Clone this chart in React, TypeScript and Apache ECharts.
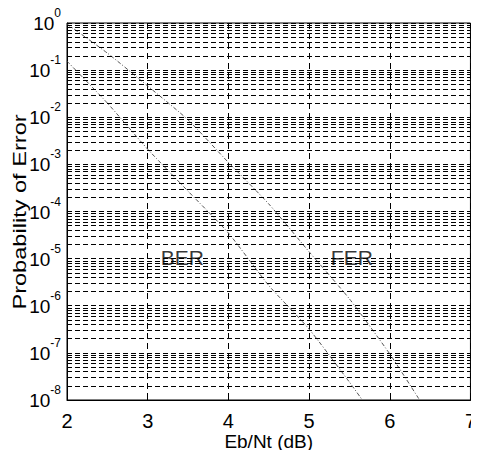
import React, { useEffect, useRef } from "react";
import * as echarts from "echarts";

// Eb/Nt (dB) sample points and error probabilities
const ebNoFER = [2, 2.5, 3, 3.5, 4, 4.5, 5, 5.5, 6, 6.37];
const ferValues = [0.95, 0.23, 0.046, 0.0088, 0.0011, 1.45e-4, 1.4e-5, 1.4e-6, 9.5e-8, 1.0e-8];
const ebNoBER = [2, 2.5, 3, 3.5, 4, 4.5, 5, 5.5, 5.66];
const berValues = [0.155, 0.02, 0.0021, 2.7e-4, 3.5e-5, 2.7e-6, 3.2e-7, 2.4e-8, 1.0e-8];

// curve annotations
const annotationNames = ["BER", "FER"];
const annotationX = [3.43, 5.53];
const annotationY = [1.07e-5, 1.07e-5];

// grid decades and minor mantissas
const decadeExponents = [-8, -7, -6, -5, -4, -3, -2, -1];
const minorMantissas = [2, 3, 4, 5, 6, 7, 8, 9];

const xMin = 2;
const xMax = 7;
const yMin = 1e-8;
const yMax = 1;

const SANS = "'Liberation Sans', Arial, Helvetica, sans-serif";

export default function App() {
  const ref = useRef<HTMLDivElement>(null);

  useEffect(() => {
    if (!ref.current) return;
    const chart = echarts.init(ref.current, undefined, { renderer: "svg" });

    const minorLines: any[] = [];
    decadeExponents.forEach((e) => {
      minorMantissas.forEach((m) => {
        minorLines.push({ yAxis: m * Math.pow(10, e) });
      });
    });

    const ferData = ebNoFER.map((x, i) => [x, ferValues[i]]);
    const berData = ebNoBER.map((x, i) => [x, berValues[i]]);
    const annData = annotationNames.map((n, i) => ({ name: n, value: [annotationX[i], annotationY[i]] }));

    const curveStyle = { color: "#555", width: 1, type: [4, 2, 1, 2] as any };

    chart.setOption({
      animation: false,
      backgroundColor: "#fff",
      grid: {
        left: 67,
        right: 4,
        top: 23,
        bottom: 58,
        show: true,
        borderColor: "#000",
        borderWidth: 1,
        backgroundColor: "transparent",
      },
      xAxis: {
        type: "value",
        min: xMin,
        max: xMax,
        interval: 1,
        name: "Eb/Nt (dB)",
        nameLocation: "middle",
        nameGap: 32,
        nameMoveOverlap: false,
        nameTextStyle: { fontFamily: SANS, fontSize: 19, lineHeight: 19, color: "#000" },
        axisLine: { show: true, lineStyle: { color: "#000", width: 1 } },
        axisTick: { show: true, inside: true, length: 5, lineStyle: { color: "#000" } },
        axisLabel: { fontFamily: SANS, fontSize: 20, lineHeight: 20, color: "#000", margin: 11 },
        splitLine: { show: true, lineStyle: { color: "#000", width: 1, type: [6, 4] } },
      },
      yAxis: {
        type: "log",
        logBase: 10,
        min: yMin,
        max: yMax,
        axisLine: { show: true, lineStyle: { color: "#000", width: 1 } },
        axisTick: { show: true, inside: true, length: 5, lineStyle: { color: "#000" } },
        axisLabel: {
          margin: 6,
          color: "#000",
          padding: [0, 0, 6, 0],
          formatter: (v: number) => {
            const e = Math.round(Math.log10(v));
            return "{b|10}{s|" + e + "}";
          },
          rich: {
            b: { fontFamily: SANS, fontSize: 19, lineHeight: 26, verticalAlign: "bottom", color: "#000" },
            s: { fontFamily: SANS, fontSize: 12, lineHeight: 13, verticalAlign: "top", color: "#000" },
          },
        },
        splitLine: { show: true, lineStyle: { color: "#000", width: 1, type: [5, 3] } },
      },
      graphic: [
        {
          type: "text",
          x: 19.5,
          y: 212,
          rotation: Math.PI / 2,
          scaleX: 1.31,
          style: {
            text: "Probability of Error",
            font: "18px " + SANS,
            fill: "#000",
            textAlign: "center",
            textVerticalAlign: "middle",
          },
        },
      ],
      series: [
        {
          name: "grid",
          type: "line",
          data: [],
          silent: true,
          markLine: {
            silent: true,
            precision: 12,
            symbol: ["none", "none"],
            label: { show: false },
            lineStyle: { color: "#000", width: 1, type: [5, 3] },
            emphasis: { disabled: true },
            data: minorLines,
          },
        },
        {
          name: "FER",
          type: "line",
          data: ferData,
          showSymbol: false,
          smooth: 0.2,
          lineStyle: curveStyle,
          silent: true,
        },
        {
          name: "BER",
          type: "line",
          data: berData,
          showSymbol: false,
          smooth: 0.2,
          lineStyle: curveStyle,
          silent: true,
        },
        {
          name: "labels",
          type: "scatter",
          data: annData,
          symbolSize: 0,
          silent: true,
          label: {
            show: true,
            position: "inside",
            formatter: (p: any) => p.name,
            fontFamily: SANS,
            fontSize: 21,
            color: "#000",
          },
        },
      ],
    });

    return () => chart.dispose();
  }, []);

  return <div ref={ref} style={{ width: 479, height: 458, margin: -8 }} />;
}
